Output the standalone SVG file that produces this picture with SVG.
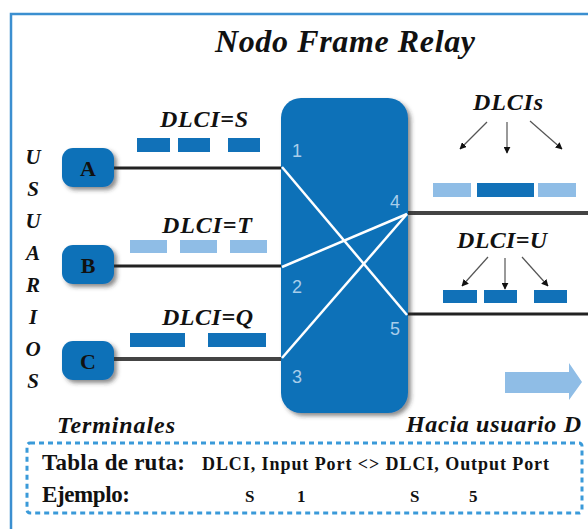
<svg xmlns="http://www.w3.org/2000/svg" width="588" height="529" viewBox="0 0 588 529">
  <defs>
    <filter id="shadow" x="-20%" y="-20%" width="150%" height="150%">
      <feDropShadow dx="3" dy="3" stdDeviation="2" flood-color="#333" flood-opacity="0.55"/>
    </filter>
    <marker id="tip" viewBox="0 0 10 10" refX="9" refY="5" markerWidth="7" markerHeight="7" orient="auto" markerUnits="userSpaceOnUse">
      <path d="M0,0 L10,5 L0,10 Z" fill="#111"/>
    </marker>
    <style>
      .title { font-family: "Liberation Serif", "Times New Roman", serif; font-weight: bold; font-style: italic; fill: #111; }
      .lbl { font-family: "Liberation Serif", "Times New Roman", serif; font-weight: bold; font-style: italic; font-size: 24px; fill: #111; }
      .vert { font-size: 21px; }
      .node { fill: #1171b8; }
      .nodetxt { font-family: "Liberation Serif", "Times New Roman", serif; font-weight: bold; font-size: 22px; fill: #111; text-anchor: middle; }
      .port { font-family: "Liberation Sans", Arial, sans-serif; font-size: 18px; fill: #a8cdea; text-anchor: middle; }
      .link { stroke: #222; stroke-width: 3; fill: none; }
      .link2 { stroke: #444; stroke-width: 4; fill: none; }
      .route { stroke: #fff; stroke-width: 2.5; fill: none; }
      .dark { fill: #1171b8; }
      .light { fill: #8fbde6; }
      .ptr { stroke: #555; stroke-width: 1.2; fill: none; marker-end: url(#tip); }
      .tab { font-family: "Liberation Serif", "Times New Roman", serif; font-weight: bold; fill: #111; }
    </style>
  </defs>

  <rect width="588" height="529" fill="#fff"/>

  <!-- outer frame -->
  <path d="M11,529 V14 H588" fill="none" stroke="#3b8fd0" stroke-width="2.5"/>

  <text class="title" x="215" y="52" font-size="32" textLength="260" lengthAdjust="spacing">Nodo Frame Relay</text>

  <!-- vertical label -->
  <g id="usuarios" class="lbl vert" text-anchor="middle">
    <text x="33" y="164">U</text>
    <text x="33" y="196">S</text>
    <text x="33" y="228">U</text>
    <text x="33" y="260">A</text>
    <text x="33" y="292">R</text>
    <text x="33" y="324">I</text>
    <text x="33" y="356">O</text>
    <text x="33" y="388">S</text>
  </g>

  <!-- connectors -->
  <g id="connectors">
    <line class="link" x1="114" y1="168" x2="283" y2="168"/>
    <line class="link" x1="114" y1="266" x2="283" y2="266"/>
    <line class="link2" x1="114" y1="359" x2="283" y2="359"/>
    <line class="link2" x1="406" y1="213" x2="588" y2="213"/>
    <line class="link" x1="406" y1="314" x2="588" y2="314"/>
  </g>

  <!-- terminals -->
  <g id="node-a">
    <rect class="node" x="62" y="148" width="52" height="39" rx="11" filter="url(#shadow)"/>
    <text class="nodetxt" x="88" y="176">A</text>
  </g>
  <g id="node-b">
    <rect class="node" x="62" y="245" width="52" height="39" rx="11" filter="url(#shadow)"/>
    <text class="nodetxt" x="88" y="273">B</text>
  </g>
  <g id="node-c">
    <rect class="node" x="62" y="341" width="52" height="39" rx="11" filter="url(#shadow)"/>
    <text class="nodetxt" x="88" y="369">C</text>
  </g>

  <!-- switching node -->
  <g id="frame-relay-node">
    <rect class="node" x="281" y="98" width="127" height="315" rx="20" filter="url(#shadow)"/>
    <line class="route" x1="282" y1="167" x2="407" y2="315"/>
    <line class="route" x1="282" y1="267" x2="407" y2="214"/>
    <line class="route" x1="282" y1="358" x2="407" y2="214"/>
    <text class="port" x="297" y="157">1</text>
    <text class="port" x="297" y="293">2</text>
    <text class="port" x="297" y="383">3</text>
    <text class="port" x="395" y="208">4</text>
    <text class="port" x="395" y="335">5</text>
  </g>

  <!-- incoming frames -->
  <g id="frames-s">
    <text class="lbl" x="160" y="127" textLength="88" lengthAdjust="spacing">DLCI=S</text>
    <rect class="dark" x="137" y="138" width="33" height="14"/>
    <rect class="dark" x="178" y="138" width="32" height="14"/>
    <rect class="dark" x="228" y="138" width="32" height="14"/>
  </g>
  <g id="frames-t">
    <text class="lbl" x="162" y="233" textLength="90" lengthAdjust="spacing">DLCI=T</text>
    <rect class="light" x="130" y="240" width="37" height="13"/>
    <rect class="light" x="180" y="240" width="37" height="13"/>
    <rect class="light" x="230" y="240" width="37" height="13"/>
  </g>
  <g id="frames-q">
    <text class="lbl" x="162" y="325" textLength="91" lengthAdjust="spacing">DLCI=Q</text>
    <rect class="dark" x="130" y="333" width="55" height="14"/>
    <rect class="dark" x="208" y="333" width="58" height="14"/>
  </g>

  <!-- outgoing frames -->
  <g id="frames-dlcis">
    <text class="lbl" x="473" y="110" textLength="70" lengthAdjust="spacing">DLCIs</text>
    <line class="ptr" x1="487" y1="122" x2="460" y2="149"/>
    <line class="ptr" x1="507" y1="122" x2="507" y2="153"/>
    <line class="ptr" x1="530" y1="121" x2="562" y2="149"/>
    <rect class="light" x="433" y="183" width="38" height="14"/>
    <rect class="dark" x="477" y="183" width="57" height="14"/>
    <rect class="light" x="538" y="183" width="38" height="14"/>
  </g>
  <g id="frames-u">
    <text class="lbl" x="457" y="248" textLength="90" lengthAdjust="spacing">DLCI=U</text>
    <line class="ptr" x1="488" y1="257" x2="462" y2="286"/>
    <line class="ptr" x1="505" y1="258" x2="505" y2="289"/>
    <line class="ptr" x1="522" y1="257" x2="548" y2="286"/>
    <rect class="dark" x="443" y="290" width="34" height="13"/>
    <rect class="dark" x="484" y="290" width="33" height="13"/>
    <rect class="dark" x="534" y="290" width="33" height="13"/>
  </g>

  <!-- direction arrow -->
  <polygon id="to-user-d" points="505,372 569,372 569,363 582,382 569,400 569,393 505,393" fill="#8fbde6"/>

  <text class="lbl" x="57" y="433" font-size="23" textLength="118" lengthAdjust="spacing">Terminales</text>
  <text class="lbl" x="406" y="432" font-size="23" textLength="175" lengthAdjust="spacing">Hacia usuario D</text>

  <!-- routing table -->
  <g id="routing-table">
    <rect x="27" y="443" width="555" height="70" rx="3" fill="none" stroke="#3a9ad9" stroke-width="3" stroke-dasharray="5 4"/>
    <text class="tab" x="42" y="470" font-size="23" textLength="143" lengthAdjust="spacing">Tabla de ruta:</text>
    <text class="tab" x="202" y="470" font-size="18" textLength="347" lengthAdjust="spacing">DLCI, Input Port &lt;&gt; DLCI, Output Port</text>
    <text class="tab" x="42" y="502" font-size="23" textLength="88" lengthAdjust="spacing">Ejemplo:</text>
    <text class="tab" x="245" y="502" font-size="17">S</text>
    <text class="tab" x="297" y="502" font-size="17">1</text>
    <text class="tab" x="410" y="502" font-size="17">S</text>
    <text class="tab" x="469" y="502" font-size="17">5</text>
  </g>
</svg>
